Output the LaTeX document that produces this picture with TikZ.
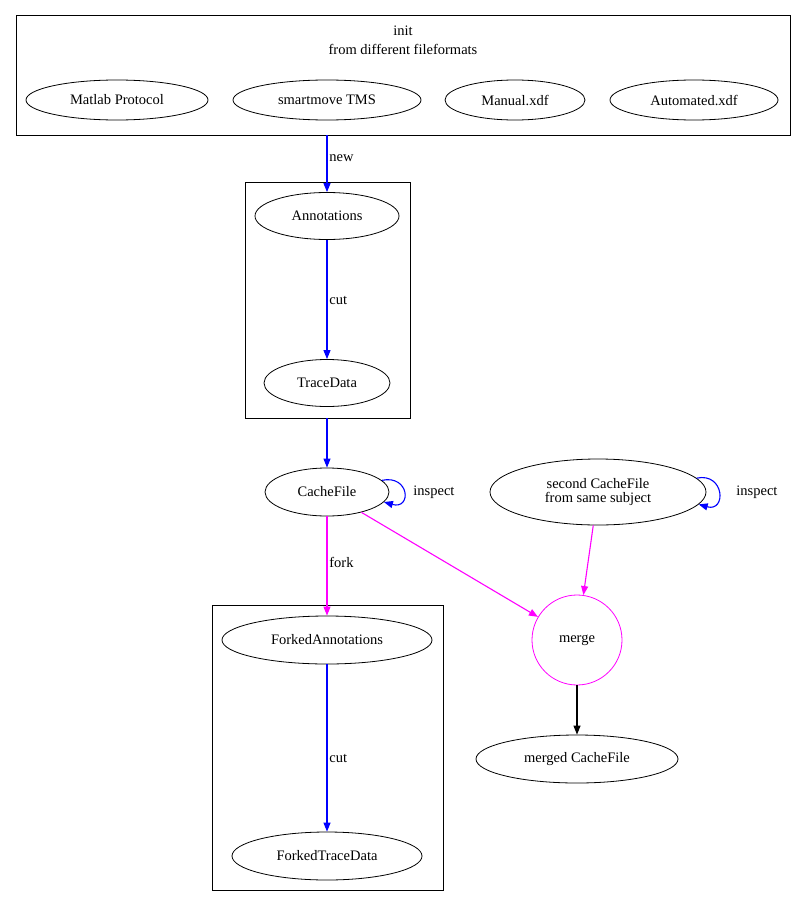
\documentclass[tikz,border=0pt]{standalone}
\usepackage{fontspec}
\setmainfont{Liberation Serif}
\usetikzlibrary{shapes.geometric,arrows.meta}
\definecolor{gvmag}{RGB}{255,0,255}
\definecolor{gvblue}{RGB}{0,0,255}
\begin{document}
\begin{tikzpicture}[x=1pt,y=-1pt,font=\fontsize{14.5}{16}\selectfont,line width=0.8pt,
  el/.style={draw,ellipse,inner sep=0pt},
  cl/.style={draw},
  tip/.style={-{Triangle[length=9pt,width=7pt]}},
  blue edge/.style={color=gvblue,line width=1.1pt,tip},
  mag edge/.style={color=gvmag,line width=1.1pt,tip},
  blk edge/.style={color=black,line width=1.1pt,tip},
  lbl/.style={inner sep=1pt,text=black}]
\useasboundingbox (0,0) rectangle (807,907);
\draw[cl] (16,15) rectangle (790,135);
\node[lbl] (initl) at (403,31) {init};
\node[lbl] (initl2) at (403,49) {from different fileformats};
\coordinate (initb) at (327,135);
\node[el,minimum width=182,minimum height=40] (matlab) at (117,100) {Matlab Protocol};
\node[el,minimum width=188,minimum height=40] (smart) at (327,100) {smartmove TMS};
\node[el,minimum width=140,minimum height=40] (manual) at (515,100) {Manual.xdf};
\node[el,minimum width=168,minimum height=40] (auto) at (694,100) {Automated.xdf};

\draw[cl] (245,182) rectangle (410,418);
\coordinate (c2b) at (327,418);
\node[el,minimum width=144,minimum height=47] (ann) at (327,216) {Annotations};
\node[el,minimum width=126,minimum height=47] (trace) at (327,383) {TraceData};

\node[el,minimum width=124,minimum height=48] (cache) at (327,492) {CacheFile};
\node[el,minimum width=216,minimum height=66] (second) at (598,492) {\begin{tabular}{c}second CacheFile\\[-2pt]from same subject\end{tabular}};
\node[draw=gvmag,circle,minimum size=90,inner sep=0pt] (merge) at (577,640) {merge};
\node[el,minimum width=202,minimum height=48] (merged) at (577,759) {merged CacheFile};

\draw[cl] (212,605) rectangle (443,890);
\node[el,minimum width=210,minimum height=48] (fann) at (327,640) {ForkedAnnotations};
\node[el,minimum width=190,minimum height=48] (ftrace) at (327,856) {ForkedTraceData};

\draw[blue edge] (initb) -- (ann);
\node[lbl,anchor=west] (newl) at (328,158) {new};
\draw[blue edge] (ann) -- (trace);
\node[lbl,anchor=west] (cutl) at (328,300) {cut};
\draw[blue edge] (c2b) -- (cache);
\draw[blue edge] (cache.12) .. controls +(28,-6) and +(28,8) .. (cache.-10);
\node[lbl,anchor=west] (insp1) at (412,492) {inspect};
\draw[blue edge] (second.8) .. controls +(28,-6) and +(28,8) .. (second.-7);
\node[lbl,anchor=west] (insp2) at (735,492) {inspect};
\draw[mag edge] (cache) -- (fann);
\node[lbl,anchor=west] (forkl) at (328,562) {fork};
\draw[mag edge] (cache) -- (merge);
\draw[mag edge] (second) -- (merge);
\draw[blk edge] (merge) -- (merged);
\draw[blue edge] (fann) -- (ftrace);
\node[lbl,anchor=west] (cut2) at (328,758) {cut};
\end{tikzpicture}
\end{document}
